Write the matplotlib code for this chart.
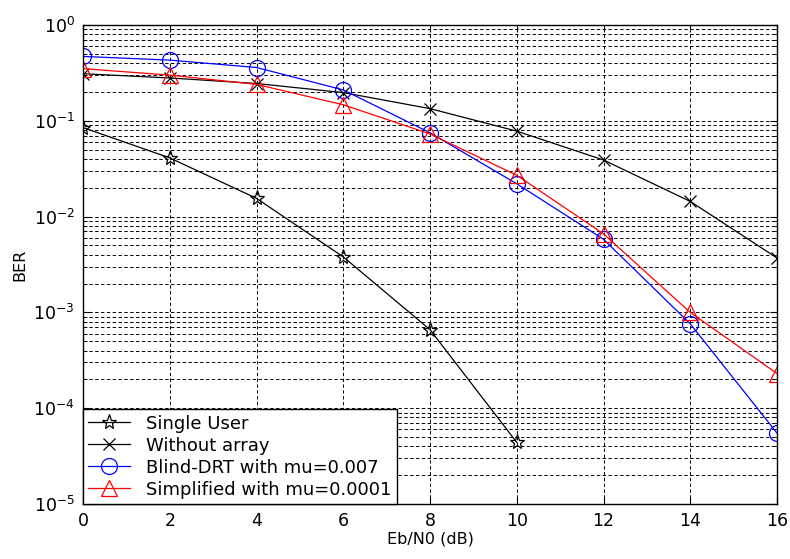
import matplotlib
matplotlib.use("Agg")
import matplotlib.pyplot as plt
import numpy as np

plt.rcParams['font.family'] = ['DejaVu Sans']

ebn0 = [0, 2, 4, 6, 8, 10, 12, 14, 16]
single_x = [0, 2, 4, 6, 8, 10]
single_user = [0.085, 0.041, 0.0155, 0.0038, 6.6e-4, 4.4e-5]
without_array = [0.31, 0.28, 0.245, 0.197, 0.134, 0.078, 0.039, 0.0144, 0.0037]
blind_drt = [0.47, 0.43, 0.36, 0.21, 0.075, 0.022, 0.0058, 7.6e-4, 5.5e-5]
simplified = [0.35, 0.30, 0.24, 0.147, 0.073, 0.027, 0.0066, 1.0e-3, 2.3e-4]

x_ticks = [0, 2, 4, 6, 8, 10, 12, 14, 16]

fig = plt.figure(figsize=(7.9, 5.59), dpi=100)
ax = fig.add_axes([83/790, 1-504/559, (777-83)/790, (504-25)/559])

ax.semilogy(single_x, single_user, color='black', lw=0.9, marker='*', ms=11,
            mfc='none', mec='black', mew=0.9, label='Single User')
ax.semilogy(ebn0, without_array, color='black', lw=0.9, marker='x', ms=8,
            mew=0.9, label='Without array')
ax.semilogy(ebn0, blind_drt, color='blue', lw=0.9, marker='o', ms=11.5,
            mfc='none', mec='blue', mew=0.9, label='Blind-DRT with mu=0.007')
ax.semilogy(ebn0, simplified, color='red', lw=0.9, marker='^', ms=11.5,
            mfc='none', mec='red', mew=0.9, label='Simplified with mu=0.0001')

ax.set_xlim(0, 16)
ax.set_ylim(1e-5, 1)
ax.set_xticks(x_ticks)
ax.set_xticklabels([str(v) for v in x_ticks])
ax.grid(True, which='major', color='black', linestyle=(0, (3.5, 2.5)), lw=0.7)
ax.grid(True, which='minor', axis='y', color='black', linestyle=(0, (3.5, 2.5)), lw=0.7)
ax.tick_params(which='both', direction='in', top=True, right=True, labelsize=12.5, pad=6)
ax.tick_params(which='minor', length=3)
ax.tick_params(which='major', length=5)
for s in ax.spines.values():
    s.set_linewidth(1.0)

ax.set_xlabel('Eb/N0 (dB)', fontsize=11.5, labelpad=1)
ax.set_ylabel('BER', fontsize=11.5, labelpad=4)

leg = ax.legend(loc='lower left', fontsize=13, frameon=True, fancybox=False,
                edgecolor='black', borderaxespad=0, handlelength=2.3,
                labelspacing=0.22, borderpad=0.3, handletextpad=0.9)
leg.get_frame().set_linewidth(1.0)
leg.get_frame().set_alpha(1)

fig.savefig('out.png', dpi=100)
